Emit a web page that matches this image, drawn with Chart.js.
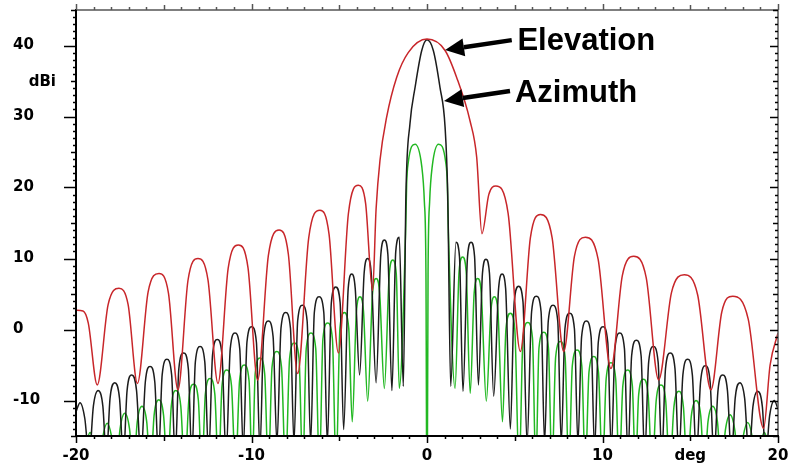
<!DOCTYPE html>
<html>
<head>
<meta charset="utf-8">
<script src="https://cdn.jsdelivr.net/npm/chart.js@4.4.1/dist/chart.umd.min.js"></script>
<style>
  html, body { margin: 0; padding: 0; background: #fff; }
  #wrap { width: 790px; height: 466px; }
</style>
</head>
<body>
<div id="wrap"><canvas id="pattern"></canvas></div>
<script>
// Antenna pattern, gain (dBi) against angle (deg)

// Elevation cut (red)
const elevDeg = [-20, -19.6, -19.3, -18.79, -18.17, -17.55, -17.03, -16.5, -15.89, -15.27, -14.73, -14.19,
  -13.62, -13.05, -12.48, -11.91, -11.33, -10.75, -10.2, -9.65, -9.04, -8.43, -7.9, -7.37, -6.74, -6.10,
  -5.58, -5.05, -4.48, -3.91, -3.5, -3.10, -2.9, -2.68, -2.30, -1.73, -1.07, 0, 1.03, 1.69, 2.45, 2.83,
  3.13, 3.52, 3.92, 4.62, 5.32, 5.89, 6.46, 7.13, 7.79, 8.4, 9.02, 9.75, 10.48, 11.13, 11.78, 12.49,
  13.20, 13.93, 14.66, 15.42, 16.18, 16.8, 17.42, 18.3, 19.18, 19.55, 20];
const elevDb = [2.7, 2.6, 0.9, -7.8, 3.5, 5.8, 3.5, -7.6, 5.3, 7.9, 5.1, -8.5,
  6.9, 10.0, 7.0, -7.6, 8.6, 11.9, 8.7, -7.1, 10.4, 14.0, 10.6, -6.2, 12.9, 16.8,
  13.4, -3.3, 16.3, 20.3, 17.8, 5.5, 17.0, 23.8, 29.9, 35.5, 39.0, 40.9, 39.3, 35.5, 29.4, 24.3,
  13.5, 19.0, 20.2, 16.4, -3.1, 12.9, 16.2, 12.9, -3.1, 10.3, 13.0, 9.9, -5.5, 7.6, 10.3, 7.3,
  -7.1, 5.2, 7.7, 4.9, -8.5, 2.5, 4.7, 1.5, -13.9, -5.0, -0.5];

// Azimuth cut (black): per side lobe -> shoulder, peak, shoulder, null
const azDeg = [
  -20, -19.77, -19.5, -19.25,
  -19.01, -18.74, -18.47, -18.27,
  -18.06, -17.79, -17.52, -17.3,
  -17.09, -16.82, -16.55, -16.3,
  -16.05, -15.78, -15.51, -15.3,
  -15.09, -14.82, -14.55, -14.35,
  -14.14, -13.87, -13.6, -13.4,
  -13.2, -12.93, -12.66, -12.44,
  -12.22, -11.95, -11.68, -11.45,
  -11.21, -10.94, -10.67, -10.47,
  -10.26, -9.99, -9.72, -9.52,
  -9.31, -9.04, -8.77, -8.55,
  -8.32, -8.05, -7.78, -7.58,
  -7.37, -7.10, -6.83, -6.63,
  -6.42, -6.15, -5.88, -5.68,
  -5.45, -5.2, -4.95, -4.75,
  -4.49, -4.29, -4.09, -3.84,
  -3.58, -3.38, -3.18, -2.9,
  -2.63, -2.43, -2.23, -2.0,
  -1.78, -1.58, -1.35,
  -1.2, -0.97, -0.68, -0.30, 0, 0.36, 0.74, 1.03, 1.18, 1.35,
  1.65, 1.85, 2.05,
  2.31, 2.51, 2.71, 2.93,
  3.16, 3.36, 3.56, 3.8,
  4.08, 4.28, 4.48, 4.75,
  4.97, 5.22, 5.47, 5.7,
  5.96, 6.23, 6.5, 6.7,
  6.91, 7.18, 7.45, 7.65,
  7.86, 8.13, 8.4, 8.6,
  8.81, 9.08, 9.35, 9.55,
  9.76, 10.03, 10.3, 10.5,
  10.71, 10.98, 11.25, 11.45,
  11.66, 11.93, 12.2, 12.4,
  12.63, 12.9, 13.17, 13.38,
  13.59, 13.86, 14.13, 14.35,
  14.58, 14.85, 15.12, 15.35,
  15.59, 15.86, 16.13, 16.35,
  16.58, 16.85, 17.12, 17.35,
  17.56, 17.83, 18.1, 18.35,
  18.57, 18.84, 19.11, 19.3,
  19.52, 19.79, 20];
const azDb = [
  -11.6, -10.3, -12.5, -18,
  -10.8, -8.6, -10.8, -18,
  -9.7, -7.5, -9.7, -18,
  -8.6, -6.4, -8.6, -18,
  -7.4, -5.2, -7.4, -18,
  -6.4, -4.2, -6.4, -18,
  -5.5, -3.3, -5.5, -18,
  -4.6, -2.4, -4.6, -18,
  -3.6, -1.4, -3.6, -18,
  -2.7, -0.5, -2.7, -17,
  -1.8, 0.4, -1.8, -17,
  -1.0, 1.2, -1.0, -16,
  0.2, 2.4, 0.2, -16,
  1.2, 3.4, 1.2, -16,
  2.4, 4.6, 2.4, -16,
  3.8, 6.0, 3.8, -14.1,
  5.8, 7.8, 5.8, -6.4,
  8.0, 10.0, 8.0, -7.5,
  10.6, 12.6, 10.6, -8.6,
  11.0, 13.0, -8.0,
  19.1, 29.0, 34.1, 39.3, 40.8, 39.3, 34.1, 28.5, 19.1, -8.0,
  12.3, 10.3, -8.7,
  10.3, 12.3, 10.3, -7.8,
  7.9, 9.9, 7.9, -9.4,
  5.8, 7.8, 5.8, -14.0,
  3.9, 6.1, 3.9, -16,
  2.5, 4.7, 2.5, -16,
  1.2, 3.4, 1.2, -16,
  0.1, 2.3, 0.1, -16,
  -1.0, 1.2, -1.0, -17,
  -1.8, 0.4, -1.8, -17,
  -2.7, -0.5, -2.7, -18,
  -3.7, -1.5, -3.7, -18,
  -4.6, -2.4, -4.6, -18,
  -5.5, -3.3, -5.5, -18,
  -6.4, -4.2, -6.4, -18,
  -7.3, -5.1, -7.3, -18,
  -8.6, -6.4, -8.6, -18,
  -9.7, -7.5, -9.7, -18,
  -10.9, -8.7, -10.9, -18,
  -12.2, -10.0, -11.2];

// third cut (green, not labelled on the plot)
const xpolDeg = [
  -20,
  -19.47, -19.2, -18.93, -18.7,
  -18.49, -18.22, -17.95, -17.72,
  -17.49, -17.22, -16.95, -16.73,
  -16.51, -16.24, -15.97, -15.76,
  -15.55, -15.28, -15.01, -14.79,
  -14.57, -14.3, -14.03, -13.8,
  -13.57, -13.3, -13.03, -12.83,
  -12.63, -12.36, -12.09, -11.88,
  -11.68, -11.41, -11.14, -10.91,
  -10.68, -10.41, -10.14, -9.96,
  -9.79, -9.52, -9.25, -9.04,
  -8.83, -8.56, -8.29, -8.06,
  -7.83, -7.56, -7.29, -7.08,
  -6.88, -6.61, -6.34, -6.13,
  -5.93, -5.66, -5.39, -5.18,
  -4.96, -4.71, -4.46, -4.26,
  -4.02, -3.82, -3.62, -3.38,
  -3.1, -2.9, -2.7, -2.43,
  -2.15, -1.95, -1.75, -1.58,
  -1.22, -1.16, -1.07, -0.68, -0.3, -0.15, -0.06, 0, 0.06, 0.15, 0.3, 0.66, 1.07, 1.16, 1.22, 1.6,
  1.83, 2.03, 2.23, 2.46,
  2.69, 2.89, 3.09, 3.38,
  3.64, 3.84, 4.04, 4.3,
  4.5, 4.75, 5.0, 5.25,
  5.47, 5.74, 6.01, 6.2,
  6.38, 6.65, 6.92, 7.12,
  7.33, 7.6, 7.87, 8.08,
  8.28, 8.55, 8.82, 9.02,
  9.23, 9.5, 9.77, 10.0,
  10.21, 10.48, 10.75, 10.95,
  11.16, 11.43, 11.7, 11.88,
  12.06, 12.33, 12.6, 12.83,
  13.06, 13.33, 13.6, 13.83,
  14.07, 14.34, 14.61, 14.83,
  15.06, 15.33, 15.6, 15.8,
  16.01, 16.28, 16.55, 16.78,
  17.0, 17.27, 17.54, 17.77,
  18.0, 18.27, 18.54, 18.75,
  18.95, 19.22, 19.49, 19.7,
  20];
const xpolDb = [
  -22,
  -16.7, -14.5, -16.7, -20,
  -15.4, -13.2, -15.4, -20,
  -14.0, -11.8, -14.0, -20,
  -13.0, -10.8, -13.0, -20,
  -12.1, -9.9, -12.1, -20,
  -10.8, -8.6, -10.8, -20,
  -9.9, -7.7, -9.9, -20,
  -9.1, -6.9, -9.1, -20,
  -7.9, -5.7, -7.9, -20,
  -7.2, -5.0, -7.2, -20,
  -6.2, -4.0, -6.2, -20,
  -5.3, -3.1, -5.3, -20,
  -4.1, -1.9, -4.1, -20,
  -2.7, -0.5, -2.7, -20,
  -1.3, 0.9, -1.3, -20,
  0.2, 2.4, 0.2, -13,
  2.6, 4.6, 2.6, -10.1,
  5.2, 7.2, 5.2, -8.3,
  7.8, 9.8, 7.8, -8.3,
  13.6, 20.5, 23.5, 26.1, 23.0, 18, 8, -30, 8, 18, 23.0, 26.1, 23.5, 20.5, 13.6, -8.3,
  8.2, 10.2, 8.2, -9,
  5.2, 7.2, 5.2, -10.1,
  2.6, 4.6, 2.6, -13,
  0.1, 2.3, 0.1, -20,
  -1.2, 1.0, -1.2, -20,
  -2.6, -0.4, -2.6, -20,
  -3.9, -1.7, -3.9, -20,
  -5.1, -2.9, -5.1, -20,
  -6.0, -3.8, -6.0, -20,
  -6.9, -4.7, -6.9, -20,
  -7.9, -5.7, -7.9, -20,
  -9.2, -7.0, -9.2, -20,
  -10.0, -7.8, -10.0, -20,
  -10.9, -8.7, -10.9, -20,
  -12.2, -10.0, -12.2, -20,
  -13.0, -10.8, -13.0, -20,
  -14.2, -12.0, -14.2, -20,
  -15.3, -13.1, -15.3, -20,
  -16.7, -14.5, -16.7, -20,
  -22];

// axes
const xMin = -20, xMax = 20;
const yMin = -15, yMax = 45;
const xLabelVals = [-20, -10, 0, 10, 15, 20];
const yLabelVals = [-10, 0, 10, 20, 30, 40];
const xUnit = 'deg';
const yUnit = 'dBi';

// callouts: text, where the arrow points, where it starts (deg, dBi)
const notes = [
  { text: 'Elevation', tip: [1.03, 39.35], tail: [4.83, 40.76], at: [5.15, 39.35] },
  { text: 'Azimuth', tip: [0.97, 32.2], tail: [4.73, 33.6], at: [5.01, 32.1] }
];

const toXY = (xs, ys) => {
  if (xs.length !== ys.length) console.error('length mismatch', xs.length, ys.length);
  return xs.map((v, i) => ({ x: v, y: ys[i] }));
};

const labelFont = 'bold 15px "DejaVu Sans"';

// frame, tick marks and tick labels, drawn from the chart's scales
const framePlugin = {
  id: 'frame',
  afterDatasetsDraw(chart) {
    const { ctx, chartArea: a, scales: { x, y } } = chart;
    const seg = (x1, y1, x2, y2) => { ctx.beginPath(); ctx.moveTo(x1, y1); ctx.lineTo(x2, y2); ctx.stroke(); };
    ctx.save();

    ctx.strokeStyle = '#555';
    ctx.lineWidth = 1.5;
    seg(a.left, a.top, a.right, a.top);
    seg(a.right, a.top, a.right, a.bottom);
    ctx.strokeStyle = '#000';
    ctx.lineWidth = 2;
    seg(a.left, a.top - 1, a.left, a.bottom + 1);
    seg(a.left - 1, a.bottom, a.right + 1, a.bottom);

    ctx.lineWidth = 1.5;
    for (let d = xMin; d <= xMax; d++) {
      const px = Math.round(x.getPixelForValue(d)) + 0.5;
      const big = d % 10 === 0, mid = d % 5 === 0;
      seg(px, a.bottom, px, a.bottom + (big ? 7 : mid ? 5 : 3));
      ctx.strokeStyle = '#555';
      seg(px, a.top, px, a.top - (big ? 6 : mid ? 5 : 3));
      ctx.strokeStyle = '#000';
    }
    for (let v = yMin; v <= yMax; v++) {
      const py = Math.round(y.getPixelForValue(v)) + 0.5;
      const big = v % 10 === 0, mid = v % 5 === 0;
      seg(a.left, py, a.left - (big ? 12 : mid ? 5 : 3), py);
      seg(a.right, py, a.right - (big ? 8 : mid ? 5 : 3), py);
    }

    ctx.fillStyle = '#000';
    ctx.font = labelFont;
    ctx.textBaseline = 'middle';
    ctx.textAlign = 'left';
    yLabelVals.forEach(v => ctx.fillText(String(v), a.left - 63, y.getPixelForValue(v)));
    ctx.textAlign = 'right';
    ctx.fillText(yUnit, a.left - 20, y.getPixelForValue(35) + 1);
    ctx.textAlign = 'center';
    xLabelVals.forEach(d => {
      ctx.fillText(d === 15 ? xUnit : String(d), x.getPixelForValue(d), a.bottom + 20);
    });
    ctx.restore();
  }
};

// labelled arrows
const notePlugin = {
  id: 'notes',
  afterDraw(chart) {
    const { ctx, scales: { x, y } } = chart;
    ctx.save();
    ctx.fillStyle = '#000';
    ctx.strokeStyle = '#000';
    notes.forEach(n => {
      const tx = x.getPixelForValue(n.tip[0]), ty = y.getPixelForValue(n.tip[1]);
      const sx = x.getPixelForValue(n.tail[0]), sy = y.getPixelForValue(n.tail[1]);
      const ang = Math.atan2(ty - sy, tx - sx);
      const headLen = 19, headHalf = 9;
      const bx = tx - headLen * Math.cos(ang), by = ty - headLen * Math.sin(ang);
      ctx.lineWidth = 4.5;
      ctx.beginPath();
      ctx.moveTo(sx, sy);
      ctx.lineTo(bx, by);
      ctx.stroke();
      ctx.beginPath();
      ctx.moveTo(tx, ty);
      ctx.lineTo(bx + headHalf * Math.sin(ang), by - headHalf * Math.cos(ang));
      ctx.lineTo(bx - headHalf * Math.sin(ang), by + headHalf * Math.cos(ang));
      ctx.closePath();
      ctx.fill();

      ctx.font = 'bold 31px "Liberation Sans", Arial, sans-serif';
      ctx.textAlign = 'left';
      ctx.textBaseline = 'alphabetic';
      ctx.fillText(n.text, x.getPixelForValue(n.at[0]), y.getPixelForValue(n.at[1]));
    });
    ctx.restore();
  }
};

const lineStyle = {
  pointRadius: 0,
  borderWidth: 1.5,
  cubicInterpolationMode: 'monotone',
  fill: false,
  clip: 0
};

document.addEventListener('DOMContentLoaded', () => {
  const ctx = document.getElementById('pattern');
  new Chart(ctx, {
    type: 'line',
    data: {
      datasets: [
        { label: 'Elevation', data: toXY(elevDeg, elevDb), borderColor: '#c8262a', ...lineStyle },
        { label: 'Azimuth', data: toXY(azDeg, azDb), borderColor: '#1c1c1c', ...lineStyle },
        { label: 'Cross', data: toXY(xpolDeg, xpolDb), borderColor: '#22b822', ...lineStyle }
      ]
    },
    options: {
      responsive: true,
      maintainAspectRatio: false,
      animation: false,
      events: [],
      layout: { padding: { left: 76, right: 12, top: 10, bottom: 30 } },
      plugins: {
        legend: { display: false },
        tooltip: { enabled: false }
      },
      scales: {
        x: { type: 'linear', min: xMin, max: xMax, display: false },
        y: { type: 'linear', min: yMin, max: yMax, display: false }
      }
    },
    plugins: [framePlugin, notePlugin]
  });
});
</script>
</body>
</html>
